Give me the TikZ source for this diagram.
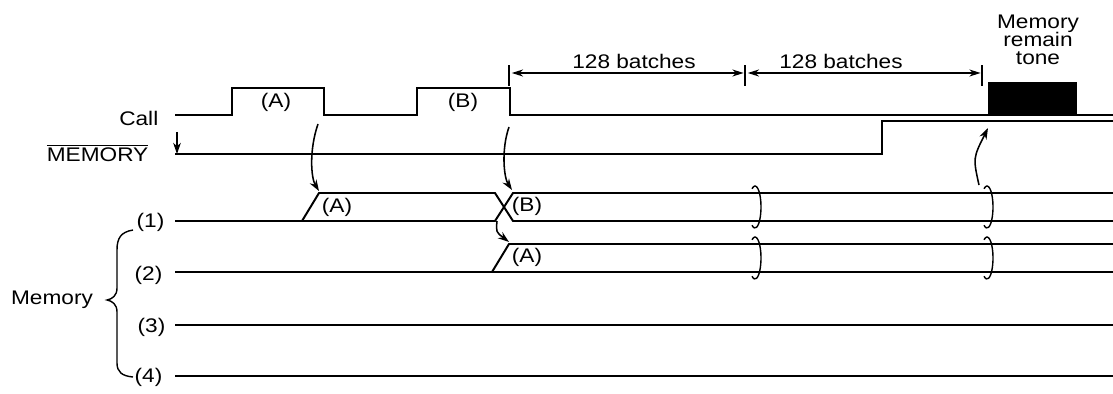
\documentclass[tikz,border=0pt]{standalone}
\usepackage{fontspec}
\setmainfont{Liberation Sans}[FakeStretch=1.15]
\usetikzlibrary{arrows.meta}

\begin{document}
\begin{tikzpicture}[
  x=0.025cm, y=-0.025cm,
  lbl/.style={font=\fontsize{14}{16}\selectfont, inner sep=1pt},
  sig/.style={line width=1.4pt},
  brk/.style={line width=1pt},
  ar/.style={-{Stealth[length=8pt,width=5.5pt]}, line width=1.1pt},
  dim/.style={{Stealth[length=8pt,width=5pt]}-{Stealth[length=8pt,width=5pt]}, line width=0.9pt}
]
\useasboundingbox (0,0) rectangle (1113,394);

\node[lbl, anchor=east] (call) at (160,118) {Call};
\node[lbl, anchor=east] (mem) at (150,153) {$\overline{\mbox{MEMORY}}$};
\node[lbl, anchor=east] (r1) at (166,222) {(1)};
\node[lbl, anchor=east] (r2) at (164,275) {(2)};
\node[lbl, anchor=east] (r3) at (167,327) {(3)};
\node[lbl, anchor=east] (r4) at (164,377) {(4)};
\node[lbl] (memory) at (52,300) {Memory};

\node[lbl] (pa) at (276,102) {(A)};
\node[lbl] (pb) at (463,102) {(B)};
\node[lbl] (a1) at (337,207) {(A)};
\node[lbl] (b1) at (527,206) {(B)};
\node[lbl] (a2) at (527,257) {(A)};

\node[lbl] (n1) at (634,61) {128 batches};
\node[lbl] (n2) at (841,61) {128 batches};
\node[lbl, align=center] (tone) at (1038,40) {Memory\\[-3pt]remain\\[-3pt]tone};

\draw[sig] (175,115) -- (232,115) -- (232,88) -- (324,88) -- (324,115)
  -- (417,115) -- (417,88) -- (510,88) -- (510,115) -- (1113,115);
\fill (988,82) rectangle (1077,115);
\draw[sig] (175,154) -- (882,154) -- (882,121) -- (1113,121);

\draw[sig] (175,221) -- (495,221) -- (513,193) -- (1113,193);
\draw[sig] (302,221) -- (319,193) -- (495,193) -- (513,221) -- (1113,221);
\draw[sig] (175,272) -- (1113,272);
\draw[sig] (492,272) -- (509,244) -- (1113,244);
\draw[sig] (175,325) -- (1113,325);
\draw[sig] (175,376) -- (1113,376);

\foreach \bx in {755,987} {
  \foreach \by in {207,258} {
    \draw[brk] (\bx,\by) ++(120:6 and 21) arc[start angle=120, end angle=-120, x radius=6, y radius=21];
  }
}

\draw[brk] (133,230) .. controls (121,232) and (117,238) .. (117,250) -- (117,288)
  .. controls (117,296) and (112,299) .. (107,300)
  .. controls (112,301) and (117,304) .. (117,312) -- (117,363)
  .. controls (117,372) and (122,376) .. (133,377);

\coordinate (md) at (177,132);
\coordinate (ma) at (177,154);
\draw[ar] (md) -- (ma);

\coordinate (pa0) at (318,124);
\coordinate (pa1) at (319,191);
\draw[ar] (pa0) .. controls (309,150) and (311,178) .. (pa1);
\coordinate (pb0) at (509,127);
\coordinate (pb1) at (512,190);
\draw[ar] (pb0) .. controls (501,150) and (504,178) .. (pb1);
\coordinate (xb) at (497,221);
\coordinate (xa) at (509,242);
\draw[ar] (xb) .. controls (496,232) .. (xa);
\coordinate (tb) at (979,185);
\coordinate (ta) at (988,128);
\draw[ar] (tb) .. controls (973,158) .. (ta);

\coordinate (d0) at (509,73);
\coordinate (d1) at (745,73);
\coordinate (d2) at (982,73);
\foreach \d in {d0,d1,d2} \draw[brk] ([yshift=-9pt]\d) -- ([yshift=6pt]\d);
\draw[dim] ([xshift=2pt]d0) -- ([xshift=-1pt]d1);
\draw[dim] ([xshift=2pt]d1) -- ([xshift=-1pt]d2);
\end{tikzpicture}
\end{document}
